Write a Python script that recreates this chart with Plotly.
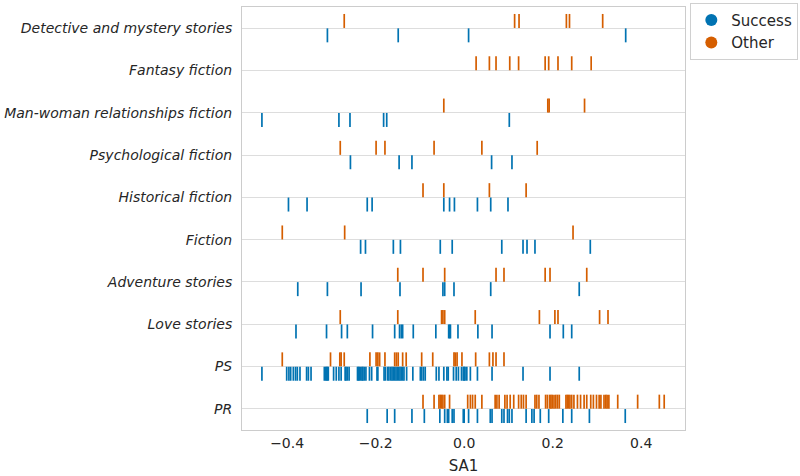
import plotly.graph_objects as go

categories = ["Detective and mystery stories", "Fantasy fiction", "Man-woman relationships fiction",
              "Psychological fiction", "Historical fiction", "Fiction", "Adventure stories",
              "Love stories", "PS", "PR"]

success = {
    "Detective and mystery stories": [-0.309, -0.149, 0.010, 0.365],
    "Fantasy fiction": [],
    "Man-woman relationships fiction": [-0.457, -0.283, -0.258, -0.182, -0.175, 0.102],
    "Psychological fiction": [-0.257, -0.147, -0.118, 0.062, 0.108],
    "Historical fiction": [-0.397, -0.355, -0.219, -0.208, -0.046, -0.033, -0.022, 0.030, 0.060, 0.099],
    "Fiction": [-0.234, -0.223, -0.160, -0.144, -0.054, -0.027, 0.085, 0.133, 0.142, 0.160, 0.285],
    "Adventure stories": [-0.376, -0.309, -0.233, -0.145, -0.048, -0.044, -0.023, 0.060, 0.260],
    "Love stories": [-0.380, -0.311, -0.277, -0.264, -0.207, -0.157, -0.146, -0.142, -0.139, -0.115,
                     -0.064, -0.035, -0.033, -0.031, -0.014, 0.031, 0.063, 0.194, 0.224, 0.243],
    "PS": [-0.457, -0.401, -0.396, -0.392, -0.386, -0.381, -0.377, -0.371, -0.356, -0.352, -0.346,
           -0.316, -0.313, -0.311, -0.309, -0.307, -0.295, -0.289, -0.283, -0.278, -0.269, -0.267,
           -0.264, -0.260, -0.241, -0.239, -0.237, -0.234, -0.231, -0.229, -0.226, -0.222, -0.214,
           -0.209, -0.197, -0.195, -0.181, -0.178, -0.173, -0.170, -0.166, -0.163, -0.160, -0.157,
           -0.154, -0.151, -0.148, -0.145, -0.142, -0.139, -0.136, -0.130, -0.116, -0.099, -0.096,
           -0.092, -0.088, -0.063, -0.057, -0.046, -0.039, -0.036, -0.024, -0.018, -0.013, -0.006,
           -0.002, 0.000, 0.002, 0.006, 0.014, 0.030, 0.063, 0.133, 0.194, 0.260],
    "PR": [-0.219, -0.174, -0.157, -0.118, -0.090, -0.055, -0.044, -0.038, -0.035, -0.027, -0.023,
           -0.002, 0.000, 0.010, 0.030, 0.059, 0.063, 0.085, 0.090, 0.098, 0.102, 0.108, 0.140,
           0.153, 0.158, 0.172, 0.191, 0.223, 0.243, 0.283, 0.364],
}

other = {
    "Detective and mystery stories": [-0.271, 0.114, 0.124, 0.231, 0.238, 0.313],
    "Fantasy fiction": [0.027, 0.057, 0.072, 0.103, 0.123, 0.183, 0.191, 0.212, 0.243, 0.287],
    "Man-woman relationships fiction": [-0.046, 0.189, 0.192, 0.272],
    "Psychological fiction": [-0.280, -0.199, -0.179, -0.068, 0.040, 0.165],
    "Historical fiction": [-0.093, -0.046, 0.057, 0.140],
    "Fiction": [-0.411, -0.270, 0.246],
    "Adventure stories": [-0.150, -0.093, -0.044, 0.072, 0.090, 0.183, 0.194, 0.277],
    "Love stories": [-0.280, -0.150, -0.051, -0.048, -0.044, 0.025, 0.170, 0.205, 0.212, 0.306, 0.325],
    "PS": [-0.411, -0.302, -0.281, -0.278, -0.271, -0.213, -0.199, -0.195, -0.191, -0.179, -0.157,
           -0.153, -0.149, -0.139, -0.131, -0.096, -0.071, -0.023, -0.020, -0.016, -0.005, 0.026,
           0.057, 0.065, 0.072, 0.090],
    "PR": [-0.093, -0.068, -0.057, -0.054, -0.051, -0.048, -0.044, -0.033,
           0.008, 0.014, 0.019, 0.025, 0.040, 0.070, 0.074, 0.079, 0.092, 0.097, 0.104, 0.112,
           0.123, 0.129, 0.134, 0.140, 0.160, 0.164, 0.169, 0.184, 0.188, 0.193, 0.196, 0.199,
           0.203, 0.207, 0.211, 0.215, 0.230, 0.233, 0.236, 0.239, 0.243, 0.248, 0.256, 0.263,
           0.271, 0.277, 0.286, 0.292, 0.299, 0.305, 0.309, 0.316, 0.320, 0.323, 0.327, 0.347,
           0.392, 0.441, 0.452],
}

x_ticks = [-0.4, -0.2, 0.0, 0.2, 0.4]
x_tick_text = ["\u22120.4", "\u22120.2", "0.0", "0.2", "0.4"]

BLUE = "#0173b2"
ORANGE = "#d55e00"
OFFSET = 0.17

fig = go.Figure()

for name, data, color, sign in [("Success", success, BLUE, 1), ("Other", other, ORANGE, -1)]:
    xs, ys = [], []
    for i, c in enumerate(categories):
        for v in data[c]:
            xs.append(v)
            ys.append(i + sign * OFFSET)
    fig.add_trace(go.Scatter(
        x=xs, y=ys, mode="markers", showlegend=False, hoverinfo="x",
        marker=dict(symbol="line-ns", size=10, line=dict(color=color, width=1.7)),
    ))

for name, color in [("Success", BLUE), ("Other", ORANGE)]:
    fig.add_trace(go.Scatter(
        x=[None], y=[None], mode="markers", name=name,
        marker=dict(symbol="circle", size=7, color=color),
    ))

fig.update_layout(
    width=800, height=476,
    margin=dict(l=242, r=115, t=7, b=46, autoexpand=False),
    plot_bgcolor="white", paper_bgcolor="white",
    font=dict(family="DejaVu Sans", size=14, color="#262626"),
    legend=dict(x=1.012, y=1.01, xanchor="left", yanchor="top",
                bordercolor="#d0d0d0", borderwidth=1, bgcolor="white",
                font=dict(size=15), itemsizing="constant", tracegroupgap=0),
    xaxis=dict(range=[-0.502, 0.499], tickvals=x_ticks, ticktext=x_tick_text,
               showgrid=False, zeroline=False, showline=True, mirror=True,
               linecolor="#cccccc", linewidth=1, ticks="", automargin=False,
               tickfont=dict(size=14), title=dict(text="SA1", font=dict(size=15), standoff=10)),
    yaxis=dict(range=[len(categories) - 0.5, -0.5], tickvals=list(range(len(categories))),
               ticktext=["<i>" + c + "</i>" for c in categories], automargin=False,
               showgrid=True, gridcolor="#dddddd", gridwidth=1, zeroline=False,
               showline=True, mirror=True, linecolor="#cccccc", linewidth=1, ticks="",
               ticklabelstandoff=6, tickfont=dict(size=14)),
)

fig.write_html("out.html")
